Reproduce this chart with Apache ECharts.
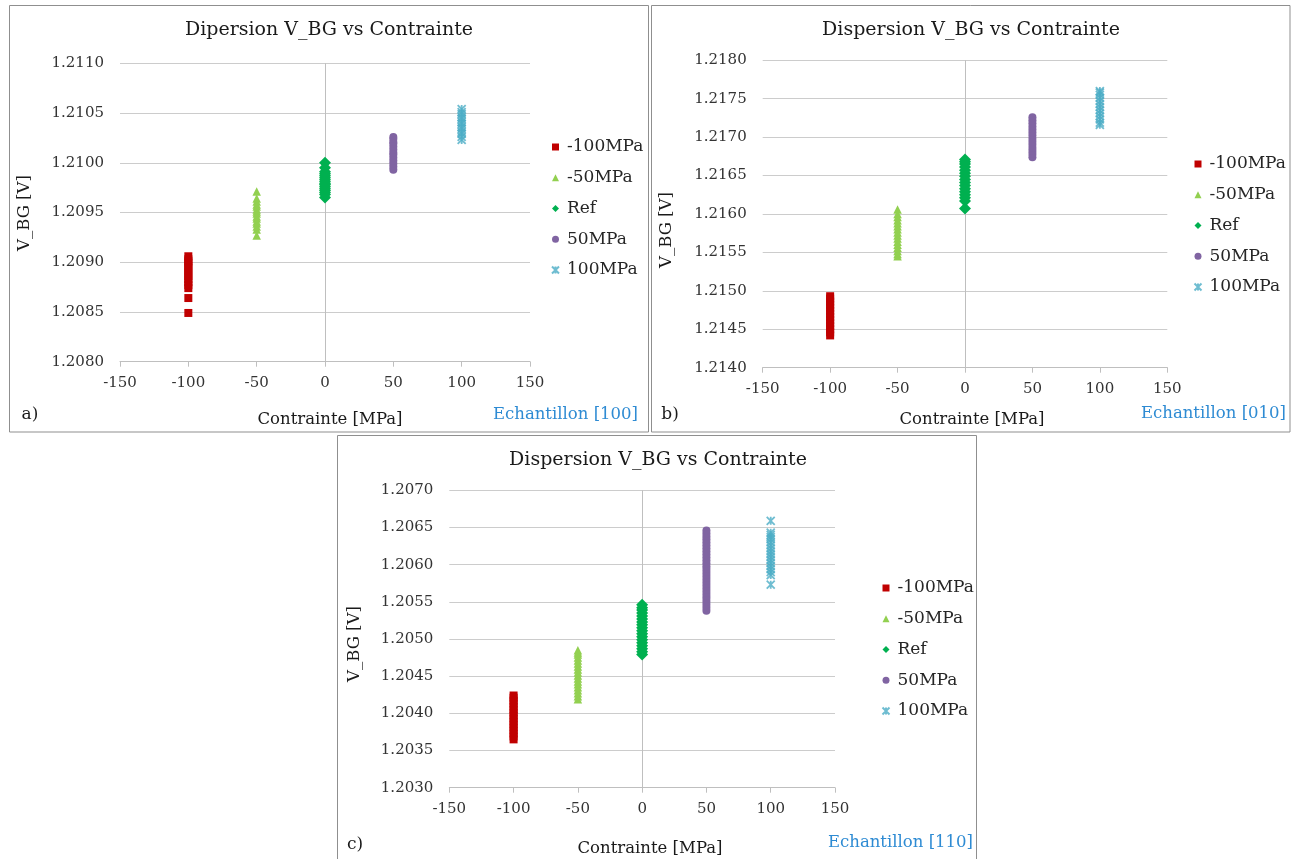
<!DOCTYPE html>
<html><head><meta charset="utf-8">
<script src="https://cdn.jsdelivr.net/npm/echarts@6/dist/echarts.min.js"></script>
<style>html,body{margin:0;padding:0;background:#fff}#c{width:1300px;height:859px}</style>
</head><body><div id="c"></div>
<script>
// ---------- DATA ----------
const seriesNames = ['-100MPa', '-50MPa', 'Ref', '50MPa', '100MPa'];
const stressX = [-100, -50, 0, 50, 100];
const xRange = [-150, 150, 50];
const titles = ['Dipersion V_BG vs Contrainte', 'Dispersion V_BG vs Contrainte', 'Dispersion V_BG vs Contrainte'];
const sampleLabels = ['Echantillon [100]', 'Echantillon [010]', 'Echantillon [110]'];
const panelLetters = ['a)', 'b)', 'c)'];
const xAxisTitle = 'Contrainte [MPa]';
const yAxisTitle = 'V_BG [V]';
const yRangeA = [1.2080, 1.2110, 0.0005];
const yRangeB = [1.2140, 1.2180, 0.0005];
const yRangeC = [1.2030, 1.2070, 0.0005];

// Panel a) Echantillon [100]
const a_m100 = [1.20849, 1.20864, 1.20874, 1.20877, 1.20880, 1.20883, 1.20886, 1.20888, 1.20891, 1.20894, 1.20896, 1.20899, 1.20901, 1.20903, 1.20906];
const a_m50  = [1.20927, 1.20933, 1.20936, 1.20939, 1.20941, 1.20944, 1.20946, 1.20949, 1.20951, 1.20953, 1.20956, 1.20958, 1.20961, 1.20964, 1.20971];
const a_ref  = [1.20965, 1.20968, 1.20970, 1.20972, 1.20974, 1.20976, 1.20978, 1.20979, 1.20981, 1.20983, 1.20985, 1.20987, 1.20989, 1.20991, 1.20995, 1.21000];
const a_p50  = [1.20993, 1.20996, 1.20999, 1.21002, 1.21005, 1.21008, 1.21010, 1.21013, 1.21016, 1.21019, 1.21021, 1.21024, 1.21026];
const a_p100 = [1.21023, 1.21026, 1.21029, 1.21031, 1.21034, 1.21036, 1.21039, 1.21041, 1.21044, 1.21046, 1.21049, 1.21051, 1.21054];

// Panel b) Echantillon [010]
const b_m100 = [1.21442, 1.21446, 1.21450, 1.21454, 1.21458, 1.21462, 1.21466, 1.21470, 1.21474, 1.21478, 1.21482, 1.21486, 1.21490, 1.21493];
const b_m50  = [1.21545, 1.21548, 1.21552, 1.21556, 1.21560, 1.21564, 1.21568, 1.21572, 1.21576, 1.21580, 1.21584, 1.21588, 1.21592, 1.21596, 1.21600, 1.21606];
const b_ref  = [1.21607, 1.21617, 1.21621, 1.21625, 1.21629, 1.21633, 1.21637, 1.21641, 1.21645, 1.21649, 1.21653, 1.21657, 1.21661, 1.21665, 1.21668, 1.21671];
const b_p50  = [1.21674, 1.21678, 1.21682, 1.21686, 1.21690, 1.21694, 1.21698, 1.21702, 1.21706, 1.21710, 1.21714, 1.21718, 1.21722, 1.21726];
const b_p100 = [1.21716, 1.21719, 1.21723, 1.21727, 1.21731, 1.21735, 1.21739, 1.21743, 1.21747, 1.21751, 1.21755, 1.21758, 1.21760];

// Panel c) Echantillon [110]
const c_m100 = [1.20365, 1.20369, 1.20373, 1.20377, 1.20381, 1.20385, 1.20389, 1.20393, 1.20397, 1.20401, 1.20405, 1.20409, 1.20413, 1.20417, 1.20421, 1.20424];
const c_m50  = [1.20419, 1.20423, 1.20427, 1.20431, 1.20435, 1.20439, 1.20443, 1.20447, 1.20451, 1.20455, 1.20459, 1.20463, 1.20467, 1.20471, 1.20475, 1.20479, 1.20482, 1.20485];
const c_ref  = [1.20479, 1.20483, 1.20487, 1.20491, 1.20495, 1.20499, 1.20503, 1.20507, 1.20511, 1.20515, 1.20519, 1.20523, 1.20527, 1.20531, 1.20535, 1.20539, 1.20542, 1.20546];
const c_p50  = [1.20538, 1.20542, 1.20546, 1.20550, 1.20554, 1.20558, 1.20562, 1.20566, 1.20570, 1.20574, 1.20578, 1.20582, 1.20586, 1.20590, 1.20594, 1.20598, 1.20602, 1.20606, 1.20610, 1.20614, 1.20618, 1.20622, 1.20626, 1.20630, 1.20634, 1.20638, 1.20642, 1.20646];
const c_p100 = [1.20573, 1.20586, 1.20590, 1.20594, 1.20598, 1.20602, 1.20606, 1.20610, 1.20614, 1.20618, 1.20622, 1.20626, 1.20630, 1.20634, 1.20637, 1.20640, 1.20643, 1.20659];

// ---------- STYLE / LAYOUT ----------
const FONT = '"DejaVu Serif", "Liberation Serif", serif';
const colors = ['#C00000', '#92D050', '#00B050', '#8064A2', '#4BACC6'];
const asterisk = 'path://M0,0L10,10M10,0L0,10M5,0L5,10';
const symbols = ['rect', 'triangle', 'diamond', 'circle', asterisk];
const symbolSizes = [8, 8.5, 12, 8, 8];

const panels = [
  { data: [a_m100, a_m50, a_ref, a_p50, a_p100], y: yRangeA,
    grid: { left: 120, top: 63.3, width: 410, height: 298.4 },
    box: [9.5, 5.5, 639, 426.5],
    title: [329, 30], yname: [25, 213], xname: [330, 420], letter: [30, 415], sample: [638, 415],
    legend: { left: 551, top: 138.5 } },
  { data: [b_m100, b_m50, b_ref, b_p50, b_p100], y: yRangeB,
    grid: { left: 762.7, top: 60.3, width: 404.6, height: 307.4 },
    box: [651.5, 5.5, 638.5, 426.5],
    title: [971, 30], yname: [667, 230], xname: [972, 420], letter: [670, 415], sample: [1286, 414],
    legend: { left: 1193.5, top: 155.5 } },
  { data: [c_m100, c_m50, c_ref, c_p50, c_p100], y: yRangeC,
    grid: { left: 449.3, top: 490.3, width: 385.7, height: 297.4 },
    box: [337.5, 435.5, 639, 430],
    title: [658, 460], yname: [355, 644], xname: [650, 849], letter: [355, 845], sample: [973, 843],
    legend: { left: 881.5, top: 579.5 } }
];

const grids = [], xAxes = [], yAxes = [], series = [], legends = [], graphics = [];

panels.forEach((p, pi) => {
  grids.push(Object.assign({ containLabel: false }, p.grid));
  xAxes.push({
    type: 'value', gridIndex: pi, min: xRange[0], max: xRange[1], interval: xRange[2],
    axisLine: { show: true, onZero: false, lineStyle: { color: '#bfbfbf', width: 1 } },
    axisTick: { show: true, length: 5, lineStyle: { color: '#bfbfbf' } },
    axisLabel: { color: '#333333', fontFamily: FONT, fontSize: 15, margin: 14 },
    splitLine: { show: false }
  });
  yAxes.push({
    type: 'value', gridIndex: pi, min: p.y[0], max: p.y[1], interval: p.y[2],
    axisLine: { show: false }, axisTick: { show: false },
    axisLabel: { color: '#333333', fontFamily: FONT, fontSize: 15, margin: 16,
      formatter: v => v.toFixed(4) },
    splitLine: { show: true, lineStyle: { color: '#cccccc', width: 1 } }
  });
  seriesNames.forEach((name, si) => {
    const isStar = si === 4;
    const s = {
      type: 'scatter', name: name, xAxisIndex: pi, yAxisIndex: pi,
      symbol: symbols[si], symbolSize: symbolSizes[si],
      itemStyle: isStar
        ? { color: 'rgba(0,0,0,0)', borderColor: colors[si], borderWidth: 1.8 }
        : { color: colors[si], opacity: 1 },
      emphasis: { disabled: true },
      data: p.data[si].map(v => [stressX[si], v]),
      z: 3 + si
    };
    if (si === 2) {
      s.markLine = {
        silent: true, symbol: ['none', 'none'], z: 1,
        label: { show: false },
        lineStyle: { color: '#bfbfbf', width: 1, type: 'solid' },
        emphasis: { disabled: true },
        data: [{ xAxis: 0 }]
      };
    }
    series.push(s);
  });
  legends.push({
    orient: 'vertical', left: p.legend.left, top: p.legend.top, padding: 0,
    itemWidth: 7, itemHeight: 7, itemGap: 13.75,
    selectedMode: false,
    textStyle: { fontFamily: FONT, fontSize: 17, color: '#262626', lineHeight: 17, padding: [0, 0, 0, 3] },
    data: seriesNames.slice()
  });
  // box
  graphics.push({ type: 'rect', shape: { x: p.box[0], y: p.box[1], width: p.box[2], height: p.box[3] },
    style: { fill: 'none', stroke: '#8f8f8f', lineWidth: 1 }, silent: true, z: 0 });
  const txt = (t, pos, size, color, align, rot) => ({
    type: 'text', x: pos[0], y: pos[1], rotation: rot || 0, silent: true, z: 10,
    style: { text: t, x: 0, y: 0, font: size + 'px ' + FONT, fill: color,
      align: align || 'center', verticalAlign: 'middle', textAlign: align || 'center', textVerticalAlign: 'middle' }
  });
  graphics.push(txt(titles[pi], p.title, 19, '#1a1a1a'));
  graphics.push(txt(yAxisTitle, p.yname, 16.5, '#1a1a1a', 'center', Math.PI / 2));
  graphics.push(txt(xAxisTitle, p.xname, 16.5, '#1a1a1a'));
  graphics.push(txt(panelLetters[pi], p.letter, 17, '#1a1a1a'));
  graphics.push(txt(sampleLabels[pi], p.sample, 16.5, '#2E8BD3', 'right'));
});

const chart = echarts.init(document.getElementById('c'), null, { renderer: 'canvas' });
chart.setOption({
  backgroundColor: '#ffffff',
  animation: false,
  grid: grids, xAxis: xAxes, yAxis: yAxes, series: series, legend: legends,
  graphic: graphics
});
</script></body></html>
